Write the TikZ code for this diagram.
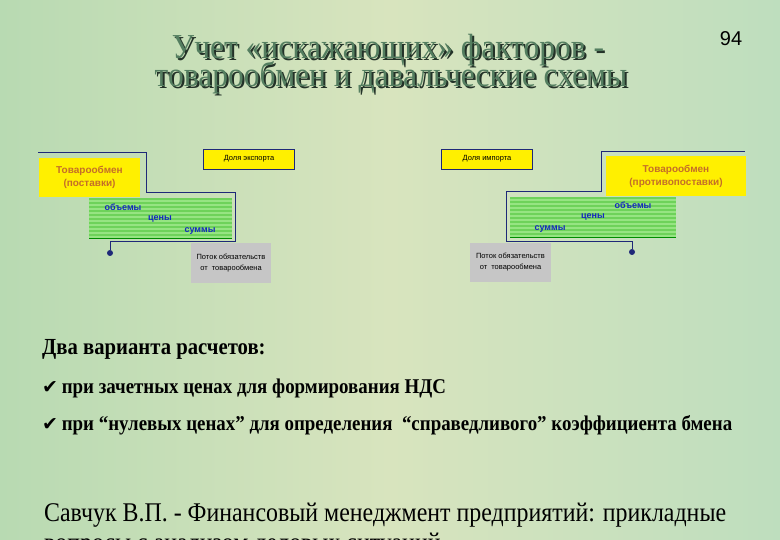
\documentclass[tikz,border=0pt]{standalone}
\usepackage{fontspec}
\setmainfont{Liberation Sans}
\newfontfamily\titlefont[FakeStretch=0.9]{Liberation Serif}
\newfontfamily\condfont[FakeStretch=0.9]{Liberation Serif}
\newfontfamily\footfont[FakeStretch=0.885]{Liberation Serif}
\newfontfamily\symfont{DejaVu Sans}
\definecolor{bgleft}{RGB}{184,218,178}
\definecolor{bgmid}{RGB}{216,228,190}
\definecolor{bgright}{RGB}{190,222,190}
\definecolor{linecol}{RGB}{30,40,120}
\definecolor{boxyellow}{RGB}{255,240,0}
\definecolor{brown}{RGB}{196,110,40}
\definecolor{stripedark}{RGB}{110,210,90}
\definecolor{stripelight}{RGB}{150,228,130}
\definecolor{textblue}{RGB}{20,40,190}
\definecolor{titlegreen}{RGB}{84,126,96}
\definecolor{titleshadow}{RGB}{35,50,40}
\begin{document}
\begin{tikzpicture}[x=1pt,y=-1pt]
  \tikzstyle{bline}=[draw=linecol, line width=1pt]
  \tikzstyle{dot}=[circle, fill=linecol, minimum size=6pt, inner sep=0pt]
  \tikzstyle{yellowbox}=[rectangle, fill=boxyellow, inner sep=0pt, text=brown, font=\bfseries\fontsize{10}{13}\selectfont, align=center]
  \tikzstyle{sharebox}=[rectangle, draw=linecol, fill=boxyellow, minimum width=91pt, minimum height=20pt, inner sep=0pt, font=\fontsize{7.5}{9}\selectfont]
  \tikzstyle{graybox}=[rectangle, fill=gray!45, inner sep=0pt, font=\fontsize{7.5}{11}\selectfont, align=center]
  \tikzstyle{word}=[text=textblue, font=\bfseries\fontsize{9}{10}\selectfont, inner sep=0pt]
  \tikzstyle{title}=[font=\titlefont\fontsize{35}{36}\selectfont, anchor=base]
  \tikzstyle{plain}=[font=\condfont\bfseries\fontsize{21}{23}\selectfont, anchor=base west, inner sep=0pt]

  % background
  \useasboundingbox (0,0) rectangle (780,540);
  \shade[left color=bgleft, right color=bgright, middle color=bgmid] (0,0) rectangle (780,540);

  % title
  \node[title, text=titleshadow] at (390,61) {Учет «искажающих» факторов -};
  \node[title, text=titlegreen] (t1) at (388,59) {Учет «искажающих» факторов -};
  \node[title, text=titleshadow] at (393,89) {товарообмен и давальческие схемы};
  \node[title, text=titlegreen] (t2) at (391,87) {товарообмен и давальческие схемы};
  \node[font=\fontsize{20}{22}\selectfont] (num) at (731,39) {94};

  % export side
  \foreach \y in {198,202,...,234} {
    \fill[stripedark] (89,\y) rectangle (232,\y+2);
    \fill[stripelight] (89,\y+2) rectangle (232,\y+4);
  }
  \draw[green!55!black, line width=0.8pt] (89,238) -- (232,238);
  \node[word] (vol1) at (123,207) {объемы};
  \node[word] (pr1) at (160,219) {цены};
  \node[word] (sum1) at (200,231) {суммы};

  \coordinate (lstart) at (38,153);
  \node[dot] (ldot) at (110,253) {};
  \draw[bline] (lstart) -- (146,153) -- (146,193) -- (235,193) -- (235,242) -- (110,242) -- (ldot);

  \node[yellowbox, minimum width=101pt, minimum height=39pt] (barter1) at (89.5,177.5) {Товарообмен\\(поставки)};
  \node[sharebox] (exp) at (249,159) {Доля экспорта};
  \node[graybox, minimum width=80pt, minimum height=40pt] (flow1) at (231,263) {Поток обязательств\\от \ товарообмена};

  % import side
  \foreach \y in {197,201,...,233} {
    \fill[stripedark] (510,\y) rectangle (676,\y+2);
    \fill[stripelight] (510,\y+2) rectangle (676,\y+4);
  }
  \draw[green!55!black, line width=0.8pt] (510,237) -- (676,237);
  \node[word] (vol2) at (633,205) {объемы};
  \node[word] (pr2) at (593,217) {цены};
  \node[word] (sum2) at (550,229) {суммы};

  \coordinate (rstart) at (745,152);
  \node[dot] (rdot) at (632,252) {};
  \draw[bline] (rstart) -- (601,152) -- (601,192) -- (506,192) -- (506,242) -- (632,242) -- (rdot);

  \node[yellowbox, minimum width=140pt, minimum height=40pt] (barter2) at (676,176) {Товарообмен\\(противопоставки)};
  \node[sharebox] (imp) at (487,159) {Доля импорта};
  \node[graybox, minimum width=81pt, minimum height=39pt] (flow2) at (510.5,262.5) {Поток обязательств\\от \ товарообмена};

  % text below
  \node[plain, font=\condfont\bfseries\fontsize{23}{25}\selectfont] (head) at (42,355) {Два варианта расчетов:};
  \node[plain] (opt1) at (42,393) {{\symfont\fontsize{19}{20}\selectfont ✔}\hspace{-1pt} при зачетных ценах для формирования НДС};
  \node[plain] (opt2) at (42,431) {{\symfont\fontsize{19}{20}\selectfont ✔}\hspace{-1pt} при “нулевых ценах” для определения \ “справедливого” коэффициента бмена};
  \node[plain, font=\footfont\fontsize{27}{30}\selectfont] (src1) at (44,521) {Савчук В.П. - Финансовый менеджмент предприятий: прикладные};
  \node[plain, font=\footfont\fontsize{27}{30}\selectfont] (src2) at (44,551) {вопросы с анализом деловых ситуаций};
\end{tikzpicture}
\end{document}
